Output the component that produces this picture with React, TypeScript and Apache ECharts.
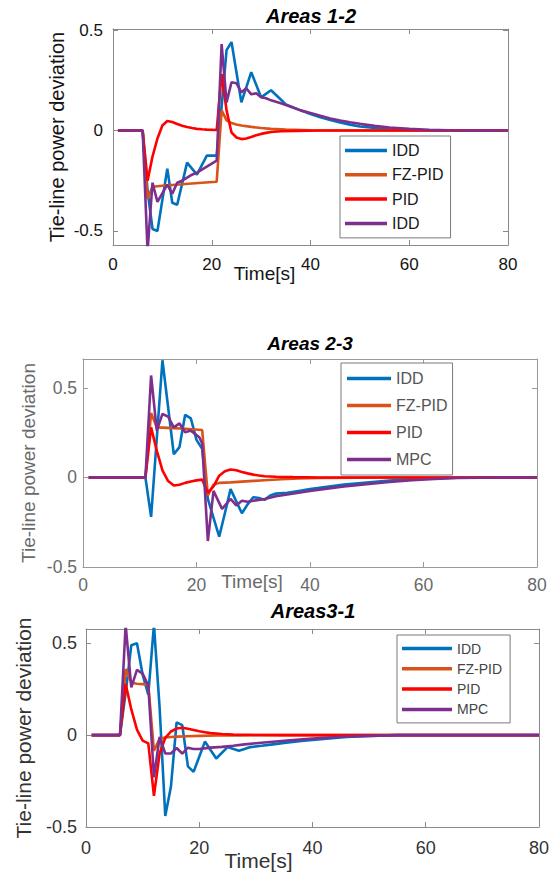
import React, { useEffect, useRef } from "react";
import * as echarts from "echarts";

type Pt = [number, number];

// ---------- tick labels ----------
const xTicks = [0, 20, 40, 60, 80];
const yTicks = [-0.5, 0, 0.5];

// ---------- Areas 1-2 ----------
const p1IDD: Pt[] = [[1,0],[6,0],[7,-0.3],[8,-0.49],[9,-0.5],[11,-0.19],[12,-0.36],[13,-0.37],[15,-0.16],[17,-0.22],[19,-0.125],[21,-0.125],[22,0.12],[23,0.4],[24,0.44],[26,0.14],[28,0.29],[30,0.165],[32,0.2],[33.5,0.165],[35,0.13],[36,0.12],[38,0.1],[40,0.082],[42,0.066],[44,0.052],[46,0.04],[48,0.029],[50,0.02],[53,0.012],[56,0.006],[60,0.002],[65,0],[80,0]];
const p1FZ: Pt[] = [[1,0],[6,0],[7,-0.34],[8,-0.28],[10,-0.275],[14,-0.268],[18,-0.26],[21,-0.255],[22,0.1],[23,0.05],[24,0.037],[25,0.03],[26,0.025],[28,0.018],[30,0.012],[32,0.008],[35,0.004],[40,0.001],[45,0],[80,0]];
const p1PID: Pt[] = [[1,0],[6,0],[7,-0.25],[8,-0.13],[9,-0.04],[10,0.025],[11,0.047],[12,0.042],[13,0.032],[14,0.024],[15,0.017],[16,0.012],[17,0.008],[18,0.006],[19,0.004],[21,0.002],[22,0.28],[23,0.1],[24,-0.01],[25,-0.035],[26,-0.043],[27,-0.04],[28,-0.032],[29,-0.024],[30,-0.017],[31,-0.012],[32,-0.008],[34,-0.004],[37,-0.002],[42,0],[80,0]];
const p1IDD2: Pt[] = [[1,0],[6,0],[7,-0.6],[8,-0.26],[9,-0.355],[11,-0.27],[12,-0.315],[13,-0.26],[14,-0.25],[15,-0.235],[16,-0.22],[17,-0.21],[18,-0.195],[19,-0.18],[20,-0.165],[21,-0.15],[22,0.43],[23,0.14],[24,0.24],[25,0.235],[26,0.19],[27,0.21],[28,0.18],[29,0.185],[30,0.165],[31,0.16],[32,0.15],[34,0.135],[36,0.118],[38,0.1],[40,0.087],[42,0.073],[44,0.06],[46,0.05],[48,0.041],[50,0.033],[53,0.023],[56,0.015],[60,0.008],[64,0.003],[68,0.001],[72,0],[80,0]];

// ---------- Areas 2-3 ----------
const p2IDD: Pt[] = [[1,0],[11,0],[12,-0.22],[14,0.655],[16,0.13],[17,0.17],[18,0.35],[19,0.33],[20,0.21],[21,0.16],[22,-0.12],[24,-0.33],[25,-0.2],[26,-0.065],[28,-0.2],[29,-0.15],[30,-0.11],[31,-0.115],[32,-0.125],[33,-0.1],[34,-0.09],[36,-0.085],[38,-0.075],[40,-0.065],[43,-0.052],[46,-0.04],[50,-0.028],[54,-0.017],[58,-0.009],[62,-0.004],[66,-0.001],[70,0],[80,0]];
const p2FZ: Pt[] = [[1,0],[11,0],[12,0.36],[13,0.28],[15,0.277],[18,0.272],[21,0.265],[22,-0.1],[23,-0.04],[24,-0.03],[26,-0.027],[28,-0.023],[30,-0.019],[32,-0.015],[35,-0.01],[38,-0.006],[42,-0.003],[48,-0.001],[55,0],[80,0]];
const p2PID: Pt[] = [[1,0],[11,0],[12,0.28],[13,0.15],[14,0.04],[15,-0.02],[16,-0.045],[17,-0.04],[18,-0.03],[19,-0.022],[20,-0.016],[21,-0.012],[22,-0.085],[23,-0.05],[24,0.01],[25,0.035],[26,0.045],[27,0.04],[28,0.031],[29,0.023],[30,0.016],[31,0.011],[32,0.007],[34,0.004],[37,0.002],[42,0],[80,0]];
const p2MPC: Pt[] = [[1,0],[11,0],[12,0.57],[13,0.262],[14,0.355],[15,0.34],[16,0.28],[17,0.302],[18,0.253],[19,0.262],[20.5,0.225],[21,0.19],[22,-0.355],[23,-0.075],[24.5,-0.175],[26,-0.12],[27,-0.156],[28,-0.13],[29,-0.135],[30,-0.13],[31,-0.125],[32,-0.12],[34,-0.105],[36,-0.095],[38,-0.085],[40,-0.075],[43,-0.062],[46,-0.05],[50,-0.037],[54,-0.025],[58,-0.015],[62,-0.008],[66,-0.003],[70,-0.001],[75,0],[80,0]];

// ---------- Areas3-1 ----------
const p3IDD: Pt[] = [[1,0],[6,0],[7,0.23],[8,0.49],[9,0.5],[10,0.33],[11,0.22],[12,0.6],[13,0.15],[14,-0.44],[15,-0.28],[16,0.07],[17,0.055],[18,-0.17],[19,-0.2],[21,-0.035],[23,-0.127],[25,-0.065],[27,-0.085],[28,-0.075],[29,-0.065],[31,-0.058],[33,-0.05],[35,-0.042],[38,-0.032],[42,-0.02],[46,-0.01],[50,-0.004],[55,0],[80,0]];
const p3FZ: Pt[] = [[1,0],[6,0],[7,0.36],[8,0.285],[9,0.28],[10,0.278],[11,0.275],[12,-0.085],[13,-0.02],[14,-0.013],[15,-0.01],[16,-0.008],[18,-0.006],[20,-0.004],[23,-0.002],[27,-0.001],[30,0],[80,0]];
const p3PID: Pt[] = [[1,0],[6,0],[7,0.28],[8,0.14],[9,0.03],[10,-0.03],[11,-0.045],[12,-0.33],[13,-0.1],[14,-0.015],[15,0.02],[16,0.036],[17,0.04],[18,0.035],[19,0.028],[20,0.021],[21,0.016],[22,0.011],[24,0.006],[26,0.003],[30,0.001],[35,0],[80,0]];
const p3MPC: Pt[] = [[1,0],[6,0],[7,0.6],[8,0.26],[9,0.355],[10,0.335],[11,0.27],[12,-0.23],[13,-0.01],[14,-0.1],[15,-0.1],[16,-0.07],[17,-0.1],[18,-0.068],[19,-0.075],[20,-0.075],[22,-0.068],[24,-0.064],[26,-0.058],[28,-0.05],[30,-0.044],[33,-0.036],[36,-0.028],[40,-0.018],[45,-0.009],[50,-0.004],[55,0],[80,0]];

const BLUE = "#0072BD";
const ORANGE = "#D95319";
const RED = "#FF0000";
const PURPLE = "#7E2F8E";
const FONT = '"Liberation Sans", Arial, Helvetica, sans-serif';

const panels = [
  {
    title: "Areas 1-2", titleX: 311, titleTop: 6, titleSize: 20,
    grid: { left: 113, top: 29, width: 395, height: 216 },
    yMin: -0.57, yMax: 0.505,
    box: "#8a8a8a", text: "#141414", tickSize: 17,
    xMargin: 11, yMargin: 10, xName: 19, xNameGap: 19, xNamePad: 92,
    yName: 20, yNameGap: 46,
    series: [
      { name: "IDD", data: p1IDD, color: BLUE },
      { name: "FZ-PID", data: p1FZ, color: ORANGE },
      { name: "PID", data: p1PID, color: RED },
      { name: "IDD (MPC)", data: p1IDD2, color: PURPLE },
    ],
    legend: { left: 340, top: 136, itemWidth: 42, itemGap: 8.3, fs: 16, pad: [6.5, 7, 6.5, 5], color: "#1a1a1a" },
  },
  {
    title: "Areas 2-3", titleX: 310, titleTop: 334, titleSize: 19,
    grid: { left: 83, top: 359, width: 454, height: 208 },
    yMin: -0.5, yMax: 0.662,
    box: "#9a9a9a", text: "#6a6a6a", tickSize: 17.5,
    xMargin: 9, yMargin: 6, xName: 19, xNameGap: 5, xNamePad: 116,
    yName: 19, yNameGap: 45,
    series: [
      { name: "IDD", data: p2IDD, color: BLUE },
      { name: "FZ-PID", data: p2FZ, color: ORANGE },
      { name: "PID", data: p2PID, color: RED },
      { name: "MPC", data: p2MPC, color: PURPLE },
    ],
    legend: { left: 341, top: 363, itemWidth: 44, itemGap: 11, fs: 16, pad: [7.5, 5, 7.5, 6], color: "#555555" },
  },
  {
    title: "Areas3-1", titleX: 313, titleTop: 601, titleSize: 20,
    grid: { left: 86, top: 629, width: 456, height: 198 },
    yMin: -0.5, yMax: 0.578,
    box: "#8a8a8a", text: "#333333", tickSize: 18,
    xMargin: 12, yMargin: 9, xName: 21, xNameGap: 23, xNamePad: 108,
    yName: 21, yNameGap: 52,
    series: [
      { name: "IDD", data: p3IDD, color: BLUE },
      { name: "FZ-PID", data: p3FZ, color: ORANGE },
      { name: "PID", data: p3PID, color: RED },
      { name: "MPC", data: p3MPC, color: PURPLE },
    ],
    legend: { left: 397, top: 635, itemWidth: 50, itemGap: 6.3, fs: 14, pad: [6.5, 8, 6.5, 5], color: "#444444" },
  },
];

export default function App() {
  const ref = useRef<HTMLDivElement>(null);
  useEffect(() => {
    document.body.style.margin = "0";
    const chart = echarts.init(ref.current!, null, { renderer: "svg" });
    const grid: any[] = [];
    const xAxis: any[] = [];
    const yAxis: any[] = [];
    const series: any[] = [];
    const title: any[] = [];
    const legend: any[] = [];

    panels.forEach((p, i) => {
      grid.push({ ...p.grid, containLabel: false });
      title.push({
        text: p.title, left: p.titleX, top: p.titleTop, textAlign: "center", padding: 0,
        textStyle: { fontSize: p.titleSize, fontWeight: "bold", fontStyle: "italic", color: "#000", fontFamily: FONT },
      });
      const lineS = { show: true, onZero: false, lineStyle: { color: p.box, width: 1 } };
      const tickS = { show: true, inside: true, length: 5, lineStyle: { color: p.box, width: 1 } };
      xAxis.push({
        gridIndex: i, type: "value", min: 0, max: 80, interval: 20, position: "bottom",
        axisLine: lineS, axisTick: tickS, splitLine: { show: false },
        axisLabel: { margin: p.xMargin, fontSize: p.tickSize, color: p.text, fontFamily: FONT, customValues: xTicks },
        name: "Time[s]", nameLocation: "middle", nameGap: p.xNameGap, nameMoveOverlap: false,
        nameTextStyle: { fontSize: p.xName, color: p.text, fontFamily: FONT, padding: [0, p.xNamePad, 0, 0] },
      });
      xAxis.push({
        gridIndex: i, type: "value", min: 0, max: 80, interval: 20, position: "top",
        axisLine: lineS, axisTick: tickS, splitLine: { show: false }, axisLabel: { show: false },
      });
      yAxis.push({
        gridIndex: i, type: "value", min: p.yMin, max: p.yMax, position: "left",
        axisLine: lineS, axisTick: { ...tickS, customValues: yTicks }, splitLine: { show: false },
        axisLabel: { margin: p.yMargin, fontSize: p.tickSize, color: p.text, fontFamily: FONT, customValues: yTicks },
        name: "Tie-line power deviation", nameLocation: "middle", nameGap: p.yNameGap, nameMoveOverlap: false,
        nameTextStyle: { fontSize: p.yName, color: p.text, fontFamily: FONT },
      });
      yAxis.push({
        gridIndex: i, type: "value", min: p.yMin, max: p.yMax, position: "right",
        axisLine: lineS, axisTick: { ...tickS, customValues: yTicks }, splitLine: { show: false },
        axisLabel: { show: false },
      });
      p.series.forEach((s, k) => {
        series.push({
          type: "line", name: s.name, data: s.data, xAxisIndex: 2 * i, yAxisIndex: 2 * i,
          showSymbol: false, symbol: "none", color: s.color, clip: true,
          lineStyle: { width: 2.6, color: s.color }, itemStyle: { color: s.color }, z: 2 + k * 0.1,
        });
      });
      legend.push({
        orient: "vertical", left: p.legend.left, top: p.legend.top,
        data: p.series.map((s) => s.name),
        icon: "rect", itemWidth: p.legend.itemWidth, itemHeight: 3.5, itemGap: p.legend.itemGap,
        padding: p.legend.pad, backgroundColor: "#ffffff", borderColor: "#7a7a7a", borderWidth: 1,
        selectedMode: false,
        formatter: (n: string) => (n === "IDD (MPC)" ? "IDD" : n),
        textStyle: { fontSize: p.legend.fs, lineHeight: p.legend.fs, color: p.legend.color, fontFamily: FONT },
      });
    });

    chart.setOption({ animation: false, backgroundColor: "#ffffff", title, grid, xAxis, yAxis, series, legend });
    return () => chart.dispose();
  }, []);
  return <div ref={ref} style={{ width: 552, height: 874 }} />;
}
